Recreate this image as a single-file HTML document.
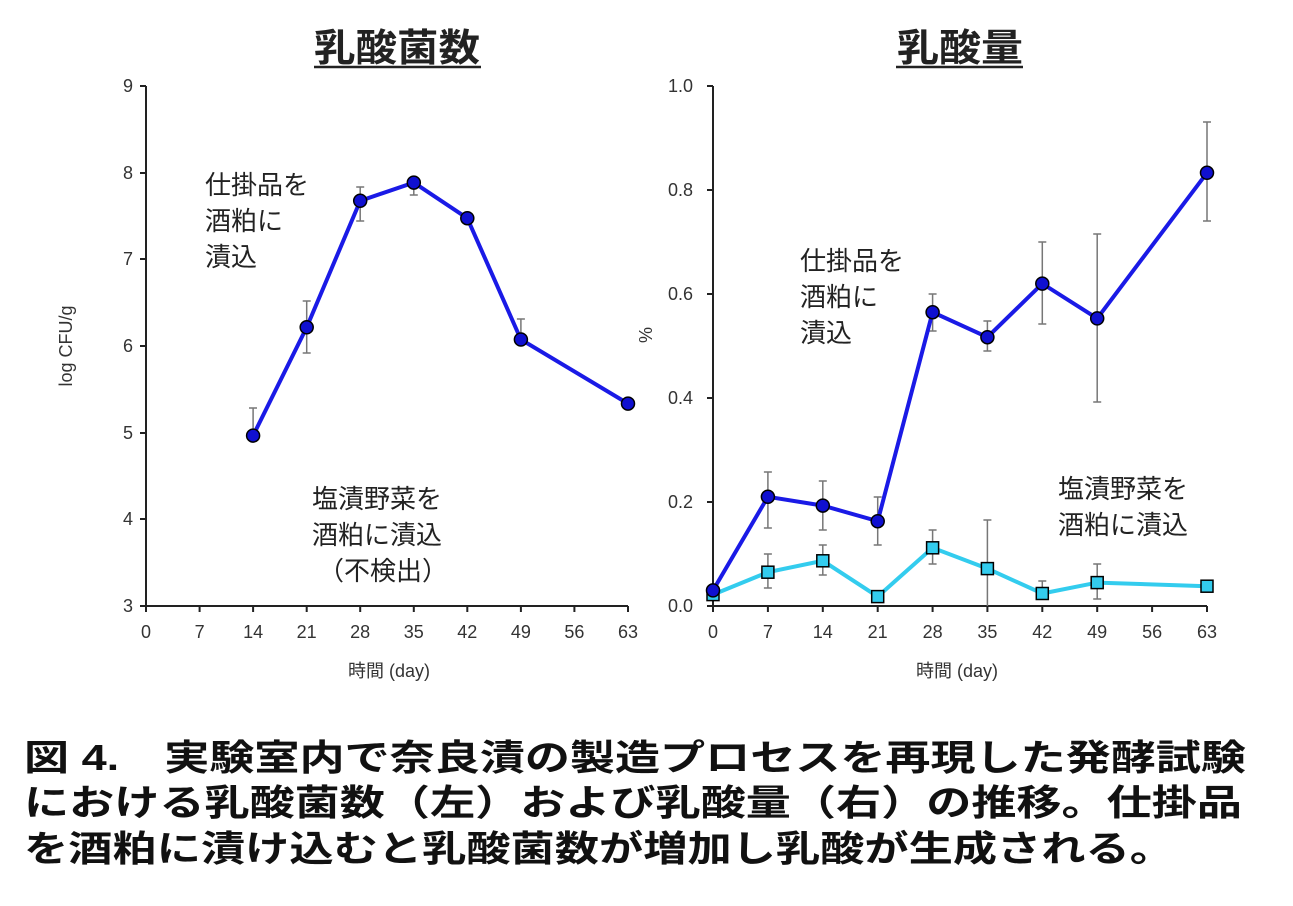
<!DOCTYPE html>
<html><head><meta charset="utf-8"><style>
body{margin:0;background:#fff;}
svg{display:block;font-family:"Liberation Sans","Noto Sans CJK JP",sans-serif;}
</style></head><body>
<svg width="1293" height="906" viewBox="0 0 1293 906" xmlns="http://www.w3.org/2000/svg">
<rect width="1293" height="906" fill="#fff"/>
<g font-size="38" font-weight="bold" fill="#222" text-anchor="middle">
<text x="397" y="61" textLength="166" lengthAdjust="spacingAndGlyphs">乳酸菌数</text>
<text x="960" y="61" textLength="126" lengthAdjust="spacingAndGlyphs">乳酸量</text>
</g>
<line x1="314" y1="67" x2="481" y2="67" stroke="#222" stroke-width="2.5"/>
<line x1="896" y1="67" x2="1023" y2="67" stroke="#222" stroke-width="2.5"/>

<!-- LEFT axes -->
<g stroke="#222" stroke-width="2" fill="none">
<path d="M146,86 V606 H628"/>
<path d="M140,86H146M140,173H146M140,259H146M140,346H146M140,433H146M140,519H146M140,606H146"/>
<path d="M146,606v6M199.6,606v6M253.1,606v6M306.7,606v6M360.2,606v6M413.8,606v6M467.3,606v6M520.9,606v6M574.4,606v6M628,606v6"/>
</g>
<g font-size="18" fill="#333" text-anchor="end">
<text x="133" y="92">9</text><text x="133" y="179">8</text><text x="133" y="265">7</text><text x="133" y="352">6</text><text x="133" y="439">5</text><text x="133" y="525">4</text><text x="133" y="612">3</text>
</g>
<g font-size="18" fill="#333" text-anchor="middle">
<text x="146" y="638">0</text><text x="199.6" y="638">7</text><text x="253.1" y="638">14</text><text x="306.7" y="638">21</text><text x="360.2" y="638">28</text><text x="413.8" y="638">35</text><text x="467.3" y="638">42</text><text x="520.9" y="638">49</text><text x="574.4" y="638">56</text><text x="628" y="638">63</text>
<text x="389" y="677">時間 (day)</text>
<text transform="translate(72,346) rotate(-90)">log CFU/g</text>
</g>
<g stroke="#777" stroke-width="1.5">
<path d="M253.1,433V408M249,408h8"/>
<path d="M306.7,352V301M302.7,301h8M306.7,327V353M302.7,353h8"/>
<path d="M360.2,201V187M356.2,187h8M360.2,201V221M356.2,221h8"/>
<path d="M413.8,183V180M409.8,180h8M413.8,183V195M409.8,195h8"/>
<path d="M520.9,339V319M516.9,319h8"/>
</g>
<polyline fill="none" stroke="#1a1ae6" stroke-width="4" points="253.1,435.6 306.7,327.3 360.2,200.8 413.8,182.6 467.3,218.2 520.9,339.5 628,403.6"/>
<g fill="#1010d0" stroke="#000" stroke-width="1.5">
<circle cx="253.1" cy="435.6" r="6.5"/><circle cx="306.7" cy="327.3" r="6.5"/><circle cx="360.2" cy="200.8" r="6.5"/><circle cx="413.8" cy="182.6" r="6.5"/><circle cx="467.3" cy="218.2" r="6.5"/><circle cx="520.9" cy="339.5" r="6.5"/><circle cx="628" cy="403.6" r="6.5"/>
</g>
<g font-size="26" fill="#222">
<text x="205" y="194">仕掛品を</text><text x="205" y="230">酒粕に</text><text x="205" y="266">漬込</text>
<text x="312" y="508">塩漬野菜を</text><text x="312" y="544">酒粕に漬込</text><text x="318" y="580">（不検出）</text>
</g>

<!-- RIGHT axes -->
<g stroke="#222" stroke-width="2" fill="none">
<path d="M713,86 V606 H1207"/>
<path d="M707,86H713M707,190H713M707,294H713M707,398H713M707,502H713M707,606H713"/>
<path d="M713,606v6M767.9,606v6M822.8,606v6M877.7,606v6M932.6,606v6M987.4,606v6M1042.3,606v6M1097.2,606v6M1152.1,606v6M1207,606v6"/>
</g>
<g font-size="18" fill="#333" text-anchor="end">
<text x="693" y="92">1.0</text><text x="693" y="196">0.8</text><text x="693" y="300">0.6</text><text x="693" y="404">0.4</text><text x="693" y="508">0.2</text><text x="693" y="612">0.0</text>
</g>
<g font-size="18" fill="#333" text-anchor="middle">
<text x="713" y="638">0</text><text x="767.9" y="638">7</text><text x="822.8" y="638">14</text><text x="877.7" y="638">21</text><text x="932.6" y="638">28</text><text x="987.4" y="638">35</text><text x="1042.3" y="638">42</text><text x="1097.2" y="638">49</text><text x="1152.1" y="638">56</text><text x="1207" y="638">63</text>
<text x="957" y="677">時間 (day)</text>
<text transform="translate(652,335) rotate(-90)">%</text>
</g>
<g stroke="#777" stroke-width="1.5">
<path d="M767.9,521V472M763.9,472h8M767.9,521V528M763.9,528h8"/>
<path d="M822.8,530V481M818.8,481h8M822.8,530V530M818.8,530h8"/>
<path d="M877.7,545V497M873.7,497h8M877.7,545V545M873.7,545h8"/>
<path d="M932.6,331V294M928.6,294h8M932.6,331V331M928.6,331h8"/>
<path d="M987.4,321V351M983.4,321h8M983.4,351h8"/>
<path d="M1042.3,242V324M1038.3,242h8M1038.3,324h8"/>
<path d="M1097.2,234V402M1093.2,234h8M1093.2,402h8"/>
<path d="M1207,122V221M1203,122h8M1203,221h8"/>
<path d="M767.9,554V588M763.9,554h8M763.9,588h8"/>
<path d="M822.8,545V575M818.8,545h8M818.8,575h8"/>
<path d="M932.6,530V564M928.6,530h8M928.6,564h8"/>
<path d="M987.4,520V606M983.4,520h8"/>
<path d="M1042.3,581V594M1038.3,581h8"/>
<path d="M1097.2,564V599M1093.2,564h8M1093.2,599h8"/>
</g>
<polyline fill="none" stroke="#33ccee" stroke-width="4" points="713,594.6 767.9,572.2 822.8,560.8 877.7,596.6 932.6,547.8 987.4,568.6 1042.3,593.5 1097.2,582.6 1207,586.2"/>
<polyline fill="none" stroke="#1a1ae6" stroke-width="4" points="713,590.4 767.9,496.8 822.8,505.6 877.7,521.2 932.6,312.2 987.4,337.2 1042.3,283.6 1097.2,318.4 1207,172.8"/>
<g fill="#33ccee" stroke="#000" stroke-width="1.5">
<rect x="707" y="588.6" width="12" height="12"/><rect x="761.9" y="566.2" width="12" height="12"/><rect x="816.8" y="554.8" width="12" height="12"/><rect x="871.7" y="590.6" width="12" height="12"/><rect x="926.6" y="541.8" width="12" height="12"/><rect x="981.4" y="562.6" width="12" height="12"/><rect x="1036.3" y="587.5" width="12" height="12"/><rect x="1091.2" y="576.6" width="12" height="12"/><rect x="1201" y="580.2" width="12" height="12"/>
</g>
<g fill="#1010d0" stroke="#000" stroke-width="1.5">
<circle cx="713" cy="590.4" r="6.5"/><circle cx="767.9" cy="496.8" r="6.5"/><circle cx="822.8" cy="505.6" r="6.5"/><circle cx="877.7" cy="521.2" r="6.5"/><circle cx="932.6" cy="312.2" r="6.5"/><circle cx="987.4" cy="337.2" r="6.5"/><circle cx="1042.3" cy="283.6" r="6.5"/><circle cx="1097.2" cy="318.4" r="6.5"/><circle cx="1207" cy="172.8" r="6.5"/>
</g>
<g font-size="26" fill="#222">
<text x="800" y="270">仕掛品を</text><text x="800" y="306">酒粕に</text><text x="800" y="342">漬込</text>
<text x="1058" y="498">塩漬野菜を</text><text x="1058" y="534">酒粕に漬込</text>
</g>

<!-- caption -->
<g font-size="36" font-weight="bold" fill="#111">
<text x="24" y="770" textLength="1222" lengthAdjust="spacingAndGlyphs">図 4.　実験室内で奈良漬の製造プロセスを再現した発酵試験</text>
<text x="24" y="815" textLength="1218" lengthAdjust="spacingAndGlyphs">における乳酸菌数（左）および乳酸量（右）の推移。仕掛品</text>
<text x="24" y="861" textLength="1150" lengthAdjust="spacingAndGlyphs">を酒粕に漬け込むと乳酸菌数が増加し乳酸が生成される。</text>
</g>
</svg>
</body></html>
